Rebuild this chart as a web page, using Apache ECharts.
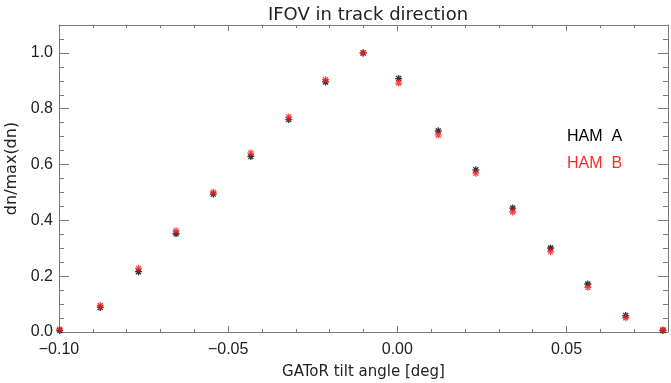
<!DOCTYPE html>
<html>
<head>
<meta charset="utf-8">
<script src="https://cdn.jsdelivr.net/npm/echarts@6/dist/echarts.min.js"></script>
<style>
  html, body { margin: 0; padding: 0; background: #fff; }
  #chart { width: 671px; height: 383px; }
</style>
</head>
<body>
<div id="chart"></div>
<script>
// tilt angle of each measurement [deg]
const tiltAngles = [-0.0998, -0.0878, -0.0765, -0.0654, -0.0544, -0.0433, -0.0321, -0.0212, -0.0101,
  0.0004, 0.0121, 0.0232, 0.0341, 0.0453, 0.0563, 0.0675, 0.0785];
const hamA = [0.005, 0.088, 0.216, 0.352, 0.494, 0.629, 0.761, 0.896, 1.0,
  0.908, 0.721, 0.581, 0.444, 0.301, 0.172, 0.059, 0.005];
const hamB = [0.010, 0.095, 0.228, 0.363, 0.501, 0.641, 0.770, 0.904, 1.0,
  0.892, 0.706, 0.569, 0.430, 0.288, 0.160, 0.051, 0.008];
const seriesNames = ['HAM  A', 'HAM  B'];

const axisGrey = '#7a7a7a';
const textCol = '#222';
// IDL-like asterisk (psym=2)
const star = 'path://M0,-1L0,1M-1,0L1,0M-0.72,-0.72L0.72,0.72M-0.72,0.72L0.72,-0.72';

function pairs(xs, ys) {
  return xs.map((x, i) => [x, ys[i]]);
}

function fmtX(v) {
  const s = Math.abs(v).toFixed(2);
  return v < -1e-9 ? '\u2212' + s : s;
}

// one axis with long ticks + labels, one with short (minor) ticks, mirrored on the opposite side
function xAxes() {
  const base = { type: 'value', min: -0.1, max: 0.08, splitLine: { show: false } };
  return [
    Object.assign({}, base, {
      position: 'bottom', interval: 0.05,
      axisLine: { onZero: false, lineStyle: { color: axisGrey } },
      axisTick: { inside: true, length: 6, lineStyle: { color: axisGrey } },
      axisLabel: { formatter: fmtX, showMaxLabel: false, color: textCol, fontSize: 16, margin: 10,
        fontFamily: 'Liberation Sans' },
      name: 'GAToR tilt angle [deg]', nameLocation: 'middle', nameGap: 33,
      nameTextStyle: { color: textCol, fontSize: 15, fontFamily: 'DejaVu Sans' }
    }),
    Object.assign({}, base, {
      position: 'bottom', interval: 0.01,
      axisLine: { show: false, onZero: false },
      axisTick: { inside: true, length: 3, lineStyle: { color: axisGrey } },
      axisLabel: { show: false }
    }),
    Object.assign({}, base, {
      position: 'top', interval: 0.05,
      axisLine: { onZero: false, lineStyle: { color: axisGrey } },
      axisTick: { inside: true, length: 6, lineStyle: { color: axisGrey } },
      axisLabel: { show: false }
    }),
    Object.assign({}, base, {
      position: 'top', interval: 0.01,
      axisLine: { show: false, onZero: false },
      axisTick: { inside: true, length: 3, lineStyle: { color: axisGrey } },
      axisLabel: { show: false }
    })
  ];
}

function yAxes() {
  const base = { type: 'value', min: 0, max: 1.1, splitLine: { show: false } };
  return [
    Object.assign({}, base, {
      position: 'left', interval: 0.2,
      axisLine: { show: true, onZero: false, lineStyle: { color: axisGrey } },
      axisTick: { show: true, inside: true, length: 10, lineStyle: { color: axisGrey } },
      axisLabel: { formatter: v => v.toFixed(1), showMaxLabel: false, color: textCol, fontSize: 16,
        margin: 6, fontFamily: 'Liberation Sans' },
      name: 'dn/max(dn)', nameLocation: 'middle', nameGap: 35,
      nameTextStyle: { color: textCol, fontSize: 16, fontFamily: 'DejaVu Sans', padding: [0, 0, 0, 20] }
    }),
    Object.assign({}, base, {
      position: 'left', interval: 0.05,
      axisLine: { show: false, onZero: false },
      axisTick: { show: true, inside: true, length: 5, lineStyle: { color: axisGrey } },
      axisLabel: { show: false }
    }),
    Object.assign({}, base, {
      position: 'right', interval: 0.2,
      axisLine: { show: true, onZero: false, lineStyle: { color: axisGrey } },
      axisTick: { show: true, inside: true, length: 10, lineStyle: { color: axisGrey } },
      axisLabel: { show: false }
    }),
    Object.assign({}, base, {
      position: 'right', interval: 0.05,
      axisLine: { show: false, onZero: false },
      axisTick: { show: true, inside: true, length: 5, lineStyle: { color: axisGrey } },
      axisLabel: { show: false }
    })
  ];
}

const chart = echarts.init(document.getElementById('chart'), null, { renderer: 'canvas' });

chart.setOption({
  animation: false,
  backgroundColor: '#fff',
  title: {
    text: 'IFOV in track direction',
    left: 363, top: 1, textAlign: 'center',
    textStyle: { color: textCol, fontSize: 18, fontWeight: 'normal', fontFamily: 'DejaVu Sans' }
  },
  legend: {
    data: [
      { name: seriesNames[0], textStyle: { color: '#000' } },
      { name: seriesNames[1], textStyle: { color: '#ff2a2a' } }
    ],
    orient: 'vertical', left: 557, top: 124,
    icon: 'none', itemWidth: 0, itemGap: 11,
    selectedMode: false,
    textStyle: { fontSize: 16, fontFamily: 'Liberation Sans', padding: 0 }
  },
  grid: { left: 59, right: 3, top: 25, bottom: 51, containLabel: false, outerBoundsMode: 'none' },
  xAxis: xAxes(),
  yAxis: yAxes(),
  series: [
    {
      name: seriesNames[0], type: 'scatter',
      data: pairs(tiltAngles, hamA),
      symbol: star, symbolSize: 7,
      itemStyle: { color: 'transparent', borderColor: '#000', borderWidth: 1.3 }
    },
    {
      name: seriesNames[1], type: 'scatter',
      data: pairs(tiltAngles, hamB),
      symbol: star, symbolSize: 7,
      itemStyle: { color: 'transparent', borderColor: '#ff1a1a', borderWidth: 1.3 }
    }
  ]
});
</script>
</body>
</html>
